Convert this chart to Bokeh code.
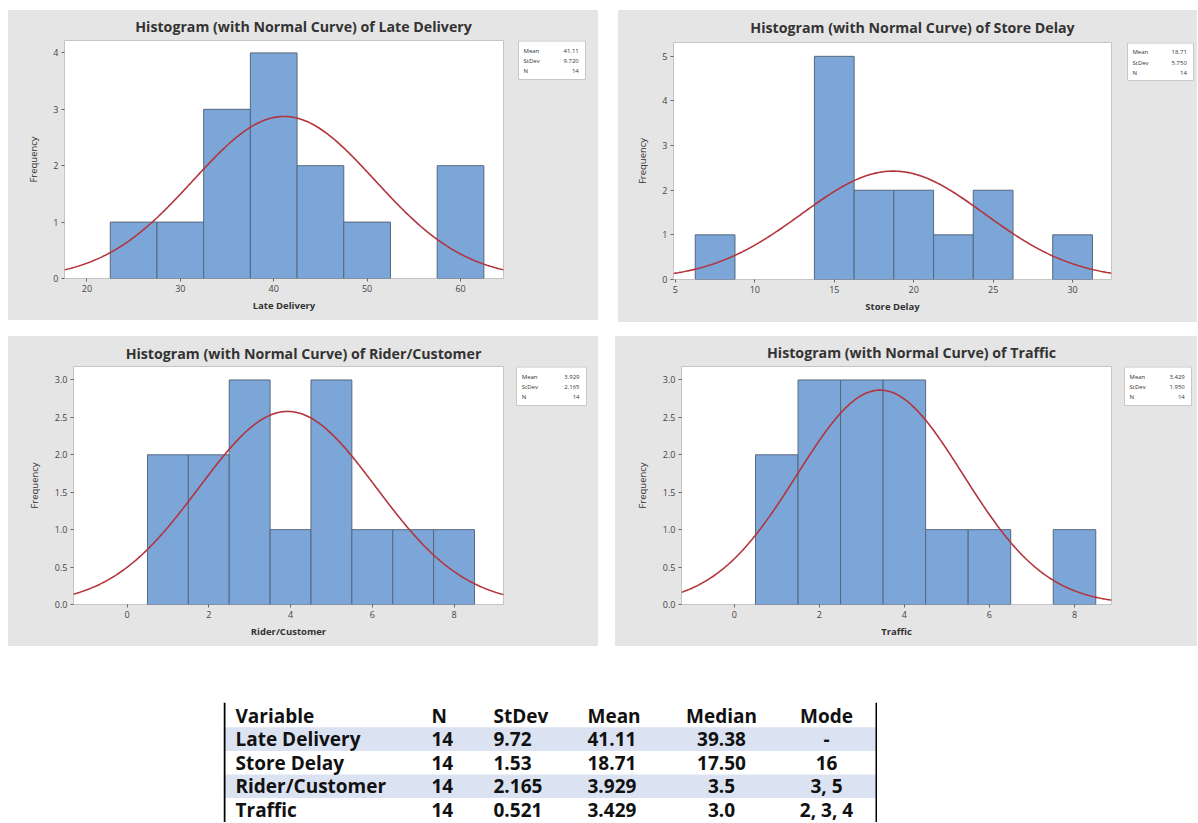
import numpy as np
from bokeh.plotting import figure
from bokeh.models import Range1d, FixedTicker, Spacer, NumeralTickFormatter
from bokeh.layouts import row, column
from bokeh.embed import file_html
from bokeh.resources import INLINE
from bokeh.core.properties import value

# ---------------- data ----------------
late_centers = [25, 30, 35, 40, 45, 50, 55, 60]
late_counts = [1, 1, 3, 4, 2, 1, 0, 2]
late_binw = 5

store_centers = [7.5, 10, 12.5, 15, 17.5, 20, 22.5, 25, 27.5, 30]
store_counts = [1, 0, 0, 5, 2, 2, 1, 2, 0, 1]
store_binw = 2.5

rider_centers = [1, 2, 3, 4, 5, 6, 7, 8]
rider_counts = [2, 2, 3, 1, 3, 1, 1, 1]
rider_binw = 1

traffic_centers = [1, 2, 3, 4, 5, 6, 7, 8]
traffic_counts = [2, 3, 3, 3, 1, 1, 0, 1]
traffic_binw = 1

hist_vars = ["Late Delivery", "Store Delay", "Rider/Customer", "Traffic"]
hist_means = [41.11, 18.71, 3.929, 3.429]
hist_stdevs = [9.720, 5.750, 2.165, 1.950]
hist_n = [14, 14, 14, 14]
stats_names = ["Mean", "StDev", "N"]
stats_mean_txt = ["41.11", "18.71", "3.929", "3.429"]
stats_sd_txt = ["9.720", "5.750", "2.165", "1.950"]
stats_n_txt = ["14", "14", "14", "14"]

tbl_header = ["Variable", "N", "StDev", "Mean", "Median", "Mode"]
tbl_variable = ["Late Delivery", "Store Delay", "Rider/Customer", "Traffic"]
tbl_n = ["14", "14", "14", "14"]
tbl_stdev = ["9.72", "1.53", "2.165", "0.521"]
tbl_mean = ["41.11", "18.71", "3.929", "3.429"]
tbl_median = ["39.38", "17.50", "3.5", "3.0"]
tbl_mode = ["-", "16", "3, 5", "2, 3, 4"]

# ---------------- style ----------------
FONT = "Open Sans"
PANEL_BG = "#e5e5e5"
BAR_FILL = "#7ca6d8"
BAR_LINE = "#56677f"
CURVE = "#b3343c"


def blank_fig(w, h, xr, yr, **kw):
    f = figure(width=w, height=h, x_range=Range1d(*xr), y_range=Range1d(*yr),
               x_axis_location=None, y_axis_location=None,
               output_backend="svg", toolbar_location=None, **kw)
    f.grid.visible = False
    return f


def panel(idx, centers, counts, binw, total_w, title_h, title_cx, title_cy,
          main_w, main_h, bl, br, bb, xr, yr, xticks, yticks, yfmt, ylab_standoff,
          box_l, box_w, box_h):
    var = hist_vars[idx]

    # --- title strip ---
    ts = blank_fig(total_w, title_h, (0, total_w), (title_h, 0), min_border=0)
    ts.background_fill_color = PANEL_BG
    ts.border_fill_color = PANEL_BG
    ts.outline_line_color = None
    ts.text(x=[title_cx], y=[title_cy], text=["Histogram (with Normal Curve) of " + var],
            text_align="center", text_baseline="middle", text_font=value(FONT),
            text_font_style="bold", text_font_size="14.2px", text_color="#333333")

    # --- main histogram ---
    p = figure(width=main_w, height=main_h, min_border_left=bl, min_border_right=br,
               min_border_top=0, min_border_bottom=bb,
               x_range=Range1d(*xr), y_range=Range1d(*yr),
               output_backend="svg", toolbar_location=None)
    p.border_fill_color = PANEL_BG
    p.background_fill_color = "white"
    p.outline_line_color = "#c4c4c4"
    p.grid.visible = False

    c = np.array(centers, float)
    k = np.array(counts, float)
    m = k > 0
    p.quad(left=c[m] - binw / 2, right=c[m] + binw / 2, bottom=0, top=k[m],
           fill_color=BAR_FILL, line_color=BAR_LINE, line_width=1)

    mean, sd, n = hist_means[idx], hist_stdevs[idx], hist_n[idx]
    xs = np.linspace(xr[0], xr[1], 400)
    ys = n * binw / (sd * np.sqrt(2 * np.pi)) * np.exp(-0.5 * ((xs - mean) / sd) ** 2)
    p.line(xs, ys, line_color=CURVE, line_width=1.6)

    p.xaxis.ticker = FixedTicker(ticks=xticks)
    p.yaxis.ticker = FixedTicker(ticks=yticks)
    if yfmt:
        p.yaxis.formatter = NumeralTickFormatter(format="0.0")
    p.xaxis.axis_label = var
    p.yaxis.axis_label = "Frequency"
    for ax in (p.xaxis[0], p.yaxis[0]):
        ax.axis_line_color = None
        ax.major_tick_line_color = "#666666"
        ax.major_tick_out = 3
        ax.major_tick_in = 0
        ax.minor_tick_line_color = None
        ax.major_label_standoff = 3
        ax.major_label_text_font = FONT
        ax.major_label_text_font_size = "9px"
        ax.major_label_text_color = "#444444"
        ax.axis_label_text_font = FONT
        ax.axis_label_text_font_size = "9.5px"
        ax.axis_label_text_color = "#333333"
    p.xaxis.axis_label_text_font_style = "bold"
    p.xaxis.axis_label_standoff = 4
    p.yaxis.axis_label_text_font_style = "normal"
    p.yaxis.axis_label_standoff = ylab_standoff

    # --- stats box (right margin area, same vertical borders as the histogram) ---
    sw = total_w - main_w
    fh = main_h - bb
    sb = blank_fig(sw, main_h, (0, sw), (fh, 0), min_border_left=0, min_border_right=0,
                   min_border_top=0, min_border_bottom=bb)
    sb.background_fill_color = PANEL_BG
    sb.border_fill_color = PANEL_BG
    sb.outline_line_color = None
    sb.quad(left=[box_l], right=[box_l + box_w], top=[0.5], bottom=[box_h],
            fill_color="white", line_color="#c8c8c8", line_width=1)
    ry = [box_h * f for f in (0.26, 0.53, 0.79)]
    sb.text(x=[box_l + 0.075 * box_w] * 3, y=ry, text=stats_names, text_align="left",
            text_baseline="middle", text_font=value(FONT), text_font_size="6px",
            text_color="#333333")
    sb.text(x=[box_l + 0.9 * box_w] * 3, y=ry,
            text=[stats_mean_txt[idx], stats_sd_txt[idx], stats_n_txt[idx]],
            text_align="right", text_baseline="middle", text_font=value(FONT),
            text_font_size="6px", text_color="#333333")

    return column(ts, row(p, sb, styles={"background-color": PANEL_BG}),
                  styles={"background-color": PANEL_BG})


P1 = panel(0, late_centers, late_counts, late_binw, 590, 30, 295, 16,
           509, 280, 56, 14, 42, (17.6, 64.6), (0, 4.22),
           [20, 30, 40, 50, 60], [0, 1, 2, 3, 4], False, 10,
           1, 67, 39)
P2 = panel(1, store_centers, store_counts, store_binw, 579, 32, 294, 17,
           508, 280, 55, 15, 43, (4.88, 32.45), (0, 5.31),
           [5, 10, 15, 20, 25, 30], [0, 1, 2, 3, 4, 5], False, 10,
           1, 66, 38)
P3 = panel(2, rider_centers, rider_counts, rider_binw, 590, 30, 295, 17,
           507, 280, 65, 12, 42, (-1.31, 9.21), (0, 3.18),
           [0, 2, 4, 6, 8], [0, 0.5, 1, 1.5, 2, 2.5, 3], True, 11,
           1, 70, 39)
P4 = panel(3, traffic_centers, traffic_counts, traffic_binw, 582, 30, 296, 16,
           508, 280, 66, 12, 42, (-1.24, 8.87), (0, 3.18),
           [0, 2, 4, 6, 8], [0, 0.5, 1, 1.5, 2, 2.5, 3], True, 11,
           1, 67, 39)

# ---------------- table ----------------
TW = 654
TH = 120
PITCH = 23.6
y_top = -13 / PITCH
y_bot = y_top + TH / PITCH
t = figure(width=TW, height=TH, x_range=Range1d(0, TW), y_range=Range1d(y_bot, y_top),
           x_axis_location=None, y_axis_location=None,
           output_backend="svg", toolbar_location=None, min_border=0)
t.grid.visible = False
t.outline_line_color = None
t.background_fill_color = "white"
t.border_fill_color = "white"

rows_y = [i + 1 for i in range(len(tbl_variable))]
shade_y = [y for i, y in enumerate(rows_y) if i % 2 == 0]
t.hbar(y=shade_y, height=1, left=0, right=TW, fill_color="#dbe3f2", line_color=None)
t.segment(x0=[1, TW - 1], y0=[y_top, y_top], x1=[1, TW - 1], y1=[y_bot, y_bot],
          line_color="black", line_width=2)

col_x = [12, 208, 270, 364, 498, 603]
col_align = ["left", "left", "left", "left", "center", "center"]
cols = [tbl_variable, tbl_n, tbl_stdev, tbl_mean, tbl_median, tbl_mode]
for j in range(6):
    ys = [0] + rows_y
    txt = [tbl_header[j]] + cols[j]
    t.text(x=[col_x[j]] * len(ys), y=ys, text=txt, text_align=col_align[j],
           text_baseline="middle", text_font=value(FONT), text_font_style="bold",
           text_font_size="19px", text_color="#111111")

layout = column(
    Spacer(height=10),
    row(Spacer(width=8), P1, Spacer(width=20), P2),
    Spacer(height=14),
    row(Spacer(width=8), P3, Spacer(width=17), P4),
    Spacer(height=56),
    row(Spacer(width=223), t),
)

open("out.html", "w").write(file_html(layout, INLINE))
